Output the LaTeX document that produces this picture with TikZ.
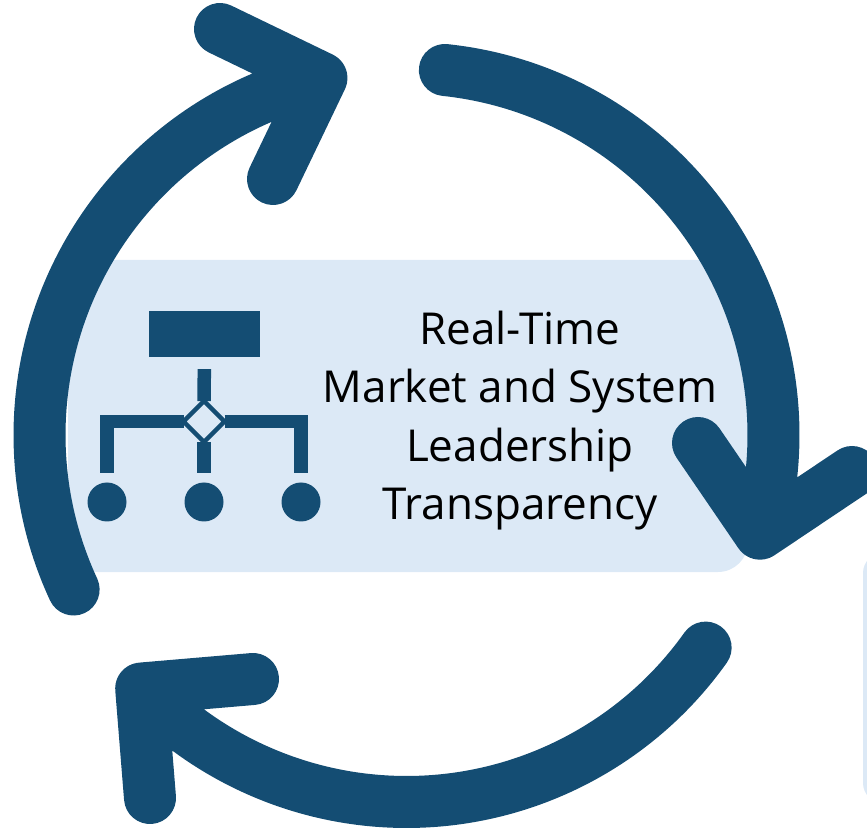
\documentclass[tikz,border=0pt]{standalone}
\usepackage{fontspec}
\setmainfont{Open Sans}
\usetikzlibrary{shapes.geometric}
\definecolor{cycleblue}{HTML}{144D73}
\definecolor{panelblue}{HTML}{DCE9F6}
\tikzset{
  cyclearrow/.style = {draw = cycleblue, line width = 52pt, line cap = round, line join = round},
  panel/.style = {rectangle, fill = panelblue, rounded corners = 30pt},
  leaf/.style = {circle, fill = cycleblue, inner sep = 0pt, outer sep = 0pt, minimum size = 39pt},
  link/.style = {draw = cycleblue, line width = 13.5pt},
}
\begin{document}
\begin{tikzpicture}[x=1pt,y=1pt]
  \useasboundingbox (0,0) rectangle (867,828);
  \clip (0,0) rectangle (867,828);

  % the panels behind the cycle
  \node[panel,
      minimum width = 680pt,
      minimum height = 312pt] (main) at (408,412) {};
  \node[panel,
      rounded corners = 20pt,
      minimum width = 100pt,
      minimum height = 250pt] (side) at (913,150) {};

  % the three arrows of the cycle
  \coordinate (hub) at (406.5,393);
  \coordinate (barba) at (698,385);
  \coordinate (barbb) at (852,356);
  \coordinate (barbc) at (253,149);
  \coordinate (barbd) at (150,30);
  \coordinate (barbe) at (220,799);
  \coordinate (barbf) at (273,649);

  \draw[cyclearrow] ([shift={(hub)}]84:367) arc[start angle = 84, end angle = -15.6, radius = 367] coordinate (tipa)
    (barba) -- (tipa) -- (barbb);
  \draw[cyclearrow] ([shift={(hub)}]-35.4:367) arc[start angle = -35.4, end angle = -136.3, radius = 367] coordinate (tipb)
    (barbc) -- (tipb) -- (barbd);
  \draw[cyclearrow] ([shift={(hub)}]204.9:367) arc[start angle = 204.9, end angle = 103.4, radius = 367] coordinate (tipc)
    (barbe) -- (tipc) -- (barbf);

  % the small tree on the panel
  \node[rectangle,
      fill = cycleblue,
      inner sep = 0pt,
      minimum width = 111pt,
      minimum height = 46pt] (top) at (204.5,494) {};
  \node[diamond,
      draw = cycleblue,
      fill = panelblue,
      line width = 4.5pt,
      inner sep = 0pt,
      outer sep = 0pt,
      minimum size = 41pt] (gate) at (204,406.5) {};
  \node[leaf] (lefta) at (107,326) {};
  \node[leaf] (leftb) at (204,326) {};
  \node[leaf] (leftc) at (301,326) {};

  \path[link, shorten < = 12pt] (top) -- (gate);
  \path[link, shorten > = 9.5pt] (gate) -| (lefta);
  \path[link, shorten > = 9.5pt] (gate) -- (leftb);
  \path[link, shorten > = 9.5pt] (gate) -| (leftc);

  % the label
  \node[align = center,
      font = \fontsize{44}{58.3}\selectfont,
      text = black] (label) at (520,407.5) {Real-Time\\Market and System\\Leadership\\Transparency};
\end{tikzpicture}
\end{document}
